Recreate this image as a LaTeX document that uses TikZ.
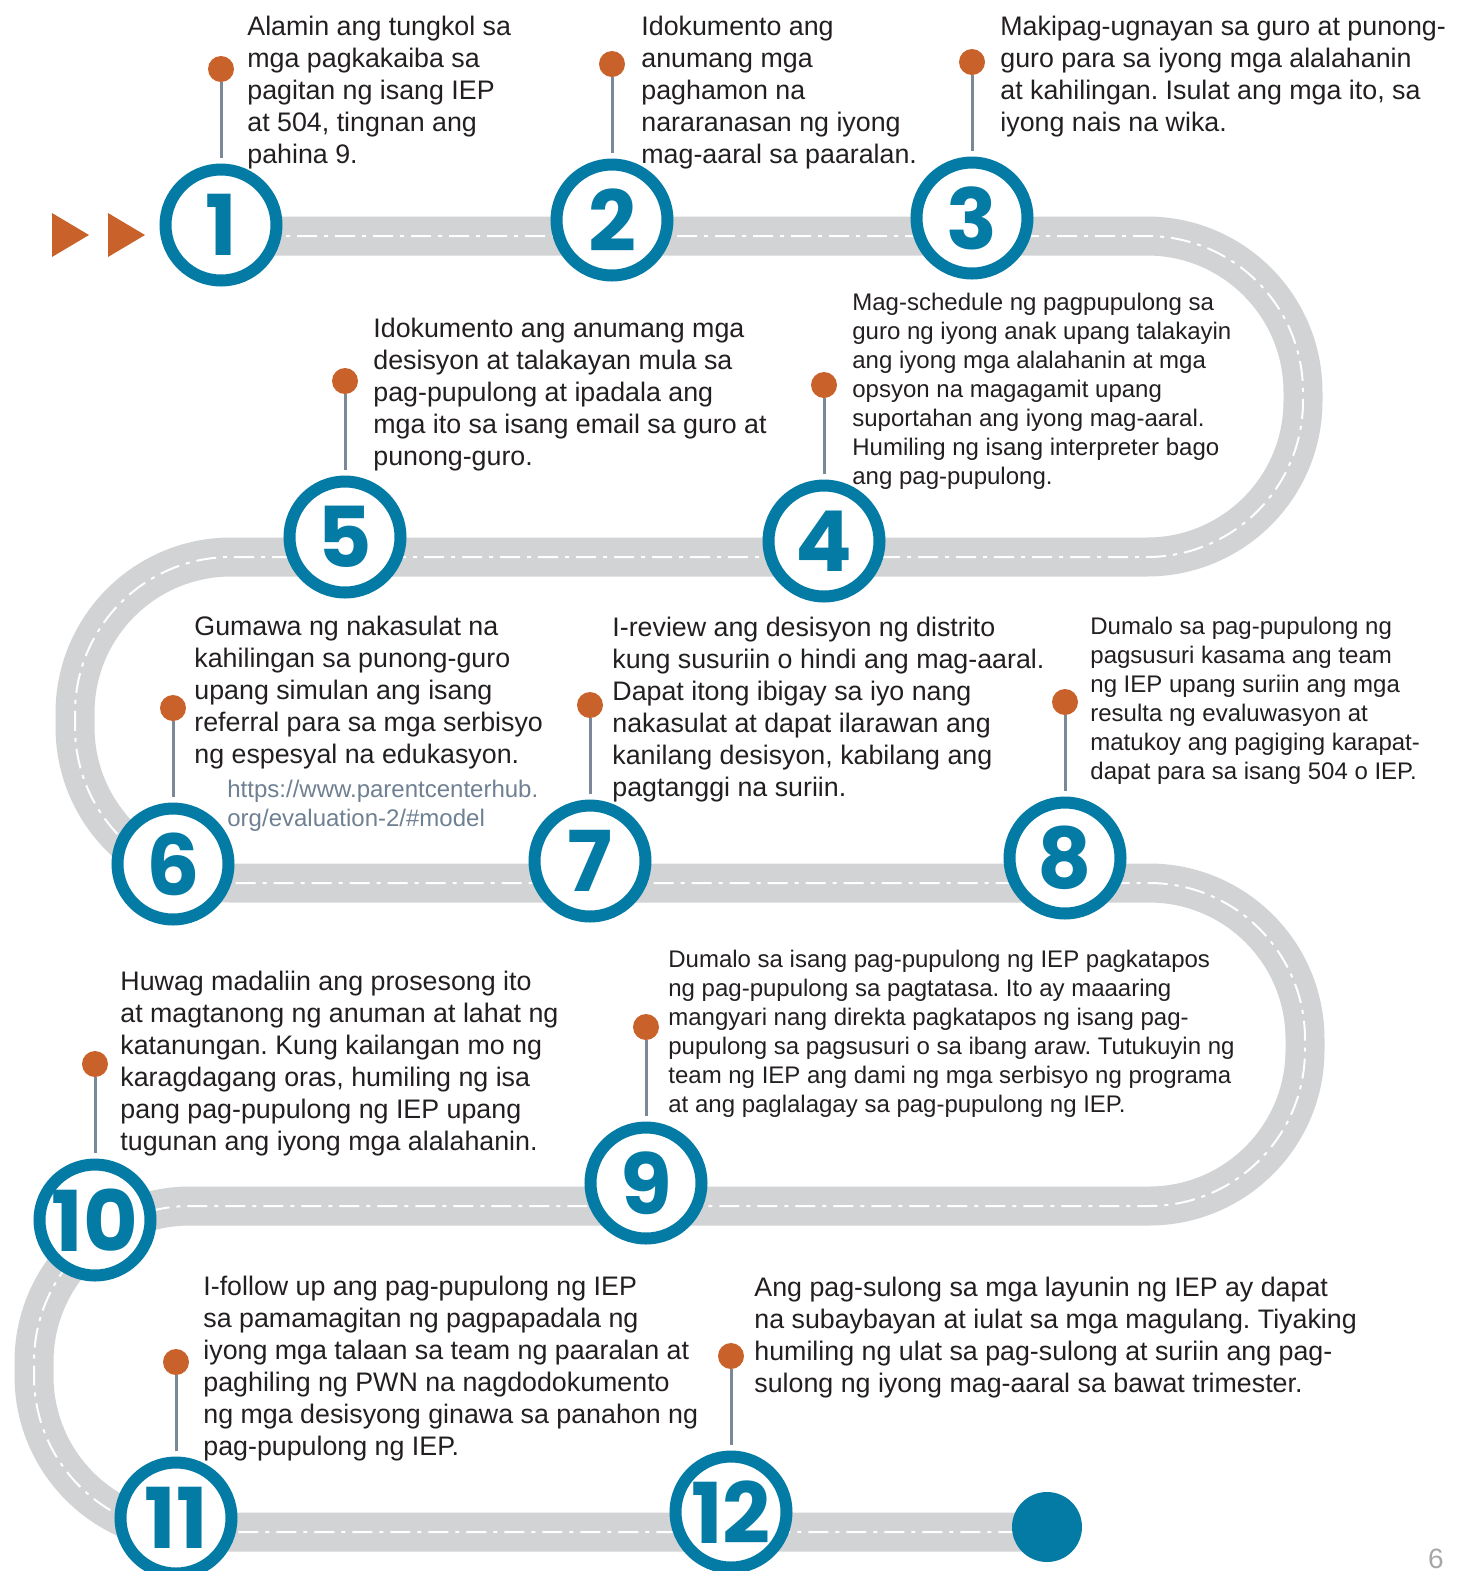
\documentclass[tikz,border=0pt]{standalone}
\usepackage{fontspec}
\setmainfont{Liberation Sans}
\newfontfamily\numfont{Poppins}
\usetikzlibrary{positioning}
\frenchspacing
\definecolor{stepblue}{RGB}{4,123,165}
\definecolor{pinorange}{RGB}{201,98,42}
\definecolor{roadgray}{RGB}{209,211,212}
\definecolor{stemgray}{RGB}{122,136,152}
\definecolor{urlgray}{RGB}{110,128,146}
\definecolor{textdark}{RGB}{35,31,32}
\tikzstyle{stepnum}=[circle,draw=stepblue,line width=6pt,fill=white,minimum size=55.5pt,inner sep=0pt,text=stepblue,font=\numfont\bfseries\fontsize{42}{42}\selectfont]
\tikzstyle{pin}=[circle,fill=pinorange,minimum size=13pt,inner sep=0pt]
\tikzstyle{stem}=[draw=stemgray,line width=1.5pt,shorten >=3pt]
\tikzstyle{road}=[draw=roadgray,line width=19.5pt,rounded corners=78pt]
\tikzstyle{lane}=[draw=white,line width=1pt,rounded corners=78pt,dash pattern=on 10pt off 3.5pt on 2pt off 3.5pt]
\tikzstyle{note}=[anchor=north west,align=left,inner sep=0pt,text=textdark,font=\fontsize{13.4}{16}\selectfont]
\tikzstyle{smallnote}=[note,font=\fontsize{12}{14.5}\selectfont]

\begin{document}
\begin{tikzpicture}[x=0.5pt,y=-0.5pt]
\useasboundingbox (0,0) rectangle (1460,1571);

% First we draw the road and its lane marks
\path[road] (221,236) -- (1303,236) -- (1303,557) -- (75,557) -- (75,883)
  -- (1305,883) -- (1305,1206) -- (34,1206) -- (34,1532) -- (1045,1532);
\path[lane] (221,236) -- (1303,236) -- (1303,557) -- (75,557) -- (75,883)
  -- (1305,883) -- (1305,1206) -- (34,1206) -- (34,1532) -- (1045,1532);

% the two arrows at the start
\foreach \x in {52,108}
  \fill[pinorange] (\x,213) -- ++(37,22) -- ++(-37,22) -- cycle;

% Then the numbered steps
\foreach \pos/\name in {{(221,225)/1}, {(612,220)/2}, {(972,218)/3}, {(824,541)/4},
                        {(345,537)/5}, {(173,864)/6}, {(590,861)/7}, {(1065,858)/8},
                        {(646,1183)/9}, {(95,1220)/10}, {(176,1518)/11}, {(731,1512)/12}}
  \node[stepnum] (c\name) at \pos {\name};

% pins above each step
\foreach \name in {1,...,12}
  \node[pin] (p\name) at ([yshift=78pt]c\name.center) {};
\foreach \name in {1,...,12}
  \path[stem] (p\name) -- (c\name);

% end of the road
\node[circle,fill=stepblue,minimum size=35pt,inner sep=0pt] (finish) at (1047,1527) {};

% Texts for the steps
\node[note] (t1) at (247,16) {Alamin ang tungkol sa\\mga pagkakaiba sa\\pagitan ng isang IEP\\at 504, tingnan ang\\pahina 9.};
\node[note] (t2) at (641,16) {Idokumento ang\\anumang mga\\paghamon na\\nararanasan ng iyong\\mag-aaral sa paaralan.};
\node[note] (t3) at (1000,16) {Makipag-ugnayan sa guro at punong-\\guro para sa iyong mga alalahanin\\at kahilingan. Isulat ang mga ito, sa\\iyong nais na wika.};
\node[smallnote] (t4) at (852,293) {Mag-schedule ng pagpupulong sa\\guro ng iyong anak upang talakayin\\ang iyong mga alalahanin at mga\\opsyon na magagamit upang\\suportahan ang iyong mag-aaral.\\Humiling ng isang interpreter bago\\ang pag-pupulong.};
\node[note] (t5) at (373,318) {Idokumento ang anumang mga\\desisyon at talakayan mula sa\\pag-pupulong at ipadala ang\\mga ito sa isang email sa guro at\\punong-guro.};
\node[note] (t6) at (194,616) {Gumawa ng nakasulat na\\kahilingan sa punong-guro\\upang simulan ang isang\\referral para sa mga serbisyo\\ng espesyal na edukasyon.};
\node[smallnote,text=urlgray] (url) at (227,780) {https://www.parentcenterhub.\\org/evaluation-2/\#model};
\node[note] (t7) at (612,617) {I-review ang desisyon ng distrito\\kung susuriin o hindi ang mag-aaral.\\Dapat itong ibigay sa iyo nang\\nakasulat at dapat ilarawan ang\\kanilang desisyon, kabilang ang\\pagtanggi na suriin.};
\node[smallnote] (t8) at (1090,617) {Dumalo sa pag-pupulong ng\\pagsusuri kasama ang team\\ng IEP upang suriin ang mga\\resulta ng evaluwasyon at\\matukoy ang pagiging karapat-\\dapat para sa isang 504 o IEP.};
\node[smallnote] (t9) at (668,950) {Dumalo sa isang pag-pupulong ng IEP pagkatapos\\ng pag-pupulong sa pagtatasa. Ito ay maaaring\\mangyari nang direkta pagkatapos ng isang pag-\\pupulong sa pagsusuri o sa ibang araw. Tutukuyin ng\\team ng IEP ang dami ng mga serbisyo ng programa\\at ang paglalagay sa pag-pupulong ng IEP.};
\node[note] (t10) at (120,971) {Huwag madaliin ang prosesong ito\\at magtanong ng anuman at lahat ng\\katanungan. Kung kailangan mo ng\\karagdagang oras, humiling ng isa\\pang pag-pupulong ng IEP upang\\tugunan ang iyong mga alalahanin.};
\node[note] (t11) at (203,1276) {I-follow up ang pag-pupulong ng IEP\\sa pamamagitan ng pagpapadala ng\\iyong mga talaan sa team ng paaralan at\\paghiling ng PWN na nagdodokumento\\ng mga desisyong ginawa sa panahon ng\\pag-pupulong ng IEP.};
\node[note] (t12) at (754,1277) {Ang pag-sulong sa mga layunin ng IEP ay dapat\\na subaybayan at iulat sa mga magulang. Tiyaking\\humiling ng ulat sa pag-sulong at suriin ang pag-\\sulong ng iyong mag-aaral sa bawat trimester.};

% page number
\node[anchor=north,inner sep=0pt,text=black!35,font=\fontsize{14}{14}\selectfont] (page) at (1436,1549) {6};
\end{tikzpicture}
\end{document}
